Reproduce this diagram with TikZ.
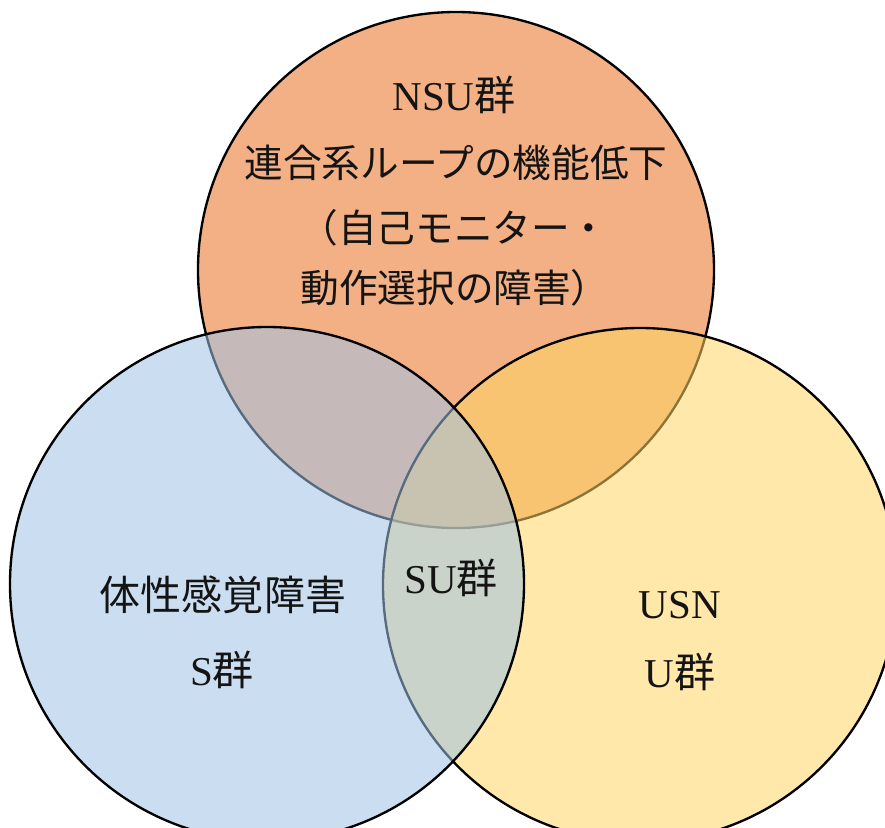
\documentclass[tikz,border=0pt]{standalone}
\usepackage{fontspec}
\setmainfont{Liberation Serif}
\newfontfamily\cjk{Noto Sans CJK JP}
\definecolor{orfill}{RGB}{243,176,132}
\definecolor{yefill}{RGB}{255,213,100}
\definecolor{blfill}{RGB}{160,195,230}
\definecolor{txt}{RGB}{20,20,20}
\tikzset{
  ring/.style={draw=black,line width=2pt},
  lbl/.style={inner sep=0pt,text=txt,font=\fontsize{33}{40}\selectfont},
  lblbig/.style={inner sep=0pt,text=txt,font=\fontsize{35}{42}\selectfont}
}
\begin{document}
\begin{tikzpicture}[x=0.03cm,y=-0.03cm]
\useasboundingbox (0,0) rectangle (885,827);
\clip (0,0) rectangle (885,827);
% circles, drawn in order: orange, yellow, blue
\path[ring,fill=orfill] (456,270) circle[radius=258];
\path[ring,fill=yefill,fill opacity=0.55] (640,585) circle[radius=257];
\path[ring,fill=blfill,fill opacity=0.55] (267,584) circle[radius=257];
% texts
\node[lblbig] (nsu) at (454,95) {NSU{\cjk 群}};
\node[lbl] (nsu1) at (456,163) {{\cjk 連合系ループの機能低下}};
\node[lbl] (nsu2) at (454,228) {{\cjk （自己モニター・}};
\node[lbl] (nsu3) at (455,288) {{\cjk 動作選択の障害）}};
\node[lblbig] (s1) at (223,595) {{\cjk 体性感覚障害}};
\node[lblbig] (s2) at (222,670) {S{\cjk 群}};
\node[lblbig] (su) at (451,578) {SU{\cjk 群}};
\node[lblbig] (u1) at (680,605) {USN};
\node[lblbig] (u2) at (680,672) {U{\cjk 群}};
\end{tikzpicture}
\end{document}
